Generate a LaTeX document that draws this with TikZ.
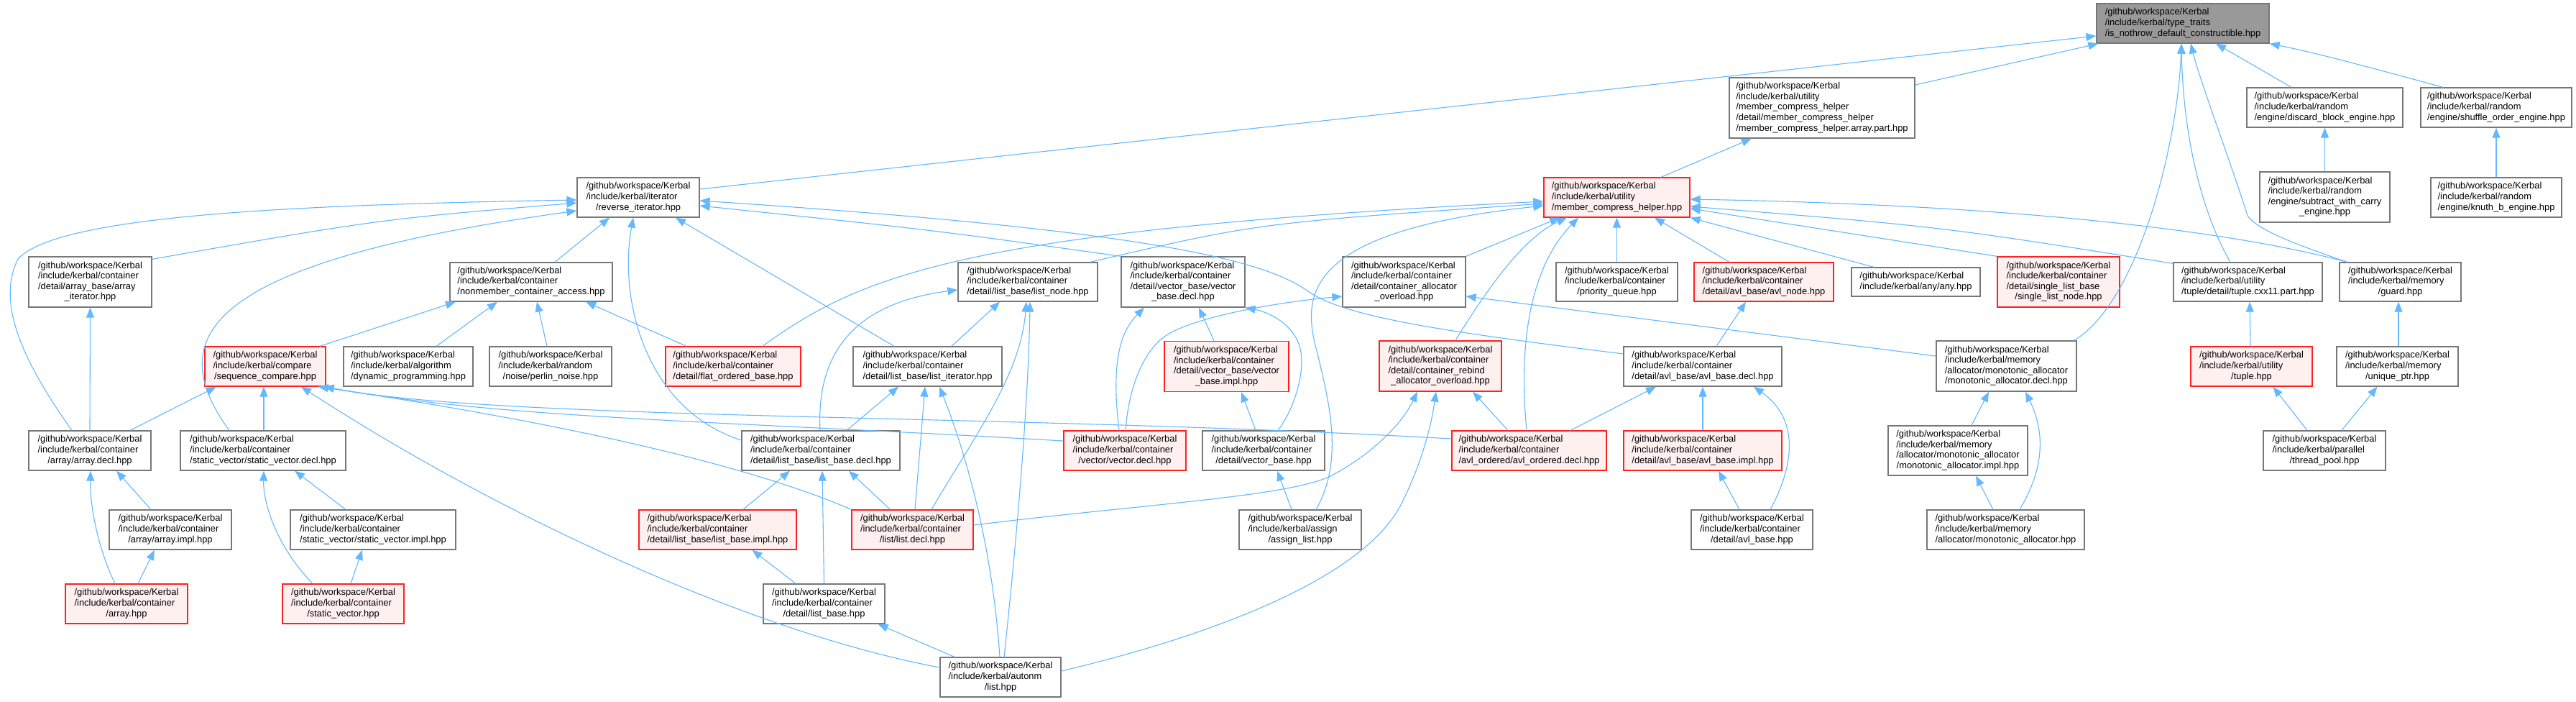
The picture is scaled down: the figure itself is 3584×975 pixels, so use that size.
\documentclass[tikz,border=0pt]{standalone}
\usepackage{fontspec}
\setmainfont{Liberation Sans}
\usetikzlibrary{arrows.meta}
\definecolor{edgeblue}{HTML}{63B8FF}
\definecolor{boxgray}{HTML}{777777}
\definecolor{rootfill}{HTML}{999999}
\definecolor{redfill}{HTML}{FFF0F0}
\definecolor{redline}{HTML}{FF2020}
\newcommand{\dlbl}[1]{\begin{tabular}{@{}l@{}}#1\end{tabular}}
\newcommand{\dlast}[1]{\multicolumn{1}{@{}c@{}}{#1}}
\newcommand{\gk}{/github/workspace/Kerbal}
\tikzset{
  nd/.style={draw=boxgray, fill=white, line width=1.3pt, inner sep=0pt, text=black,
    font=\fontsize{12.9}{14.6}\selectfont},
  rednd/.style={nd, draw=redline, fill=redfill},
  rootnd/.style={nd, draw=boxgray, fill=rootfill},
  sz/.style 2 args={minimum width=#1pt, minimum height=#2pt},
  arr/.style={draw=edgeblue, line width=1.1pt, -{Triangle[length=14pt,width=11pt]}}
}
\begin{document}
\begin{tikzpicture}[x=1pt,y=-1pt]
\fill[white] (0,0) rectangle (3584,975);
\useasboundingbox (0,0) rectangle (3584,975);

% ---------- nodes ----------
\node[rootnd, sz={240}{55}] (N0) at (3037,32.5) {\dlbl{\gk\\/include/kerbal/type\_traits\\\dlast{/is\_nothrow\_default\_constructible.hpp}}};
\node[nd, sz={258}{84}] (arraypart) at (2535,150) {\dlbl{\gk\\/include/kerbal/utility\\/member\_compress\_helper\\/detail/member\_compress\_helper\\\dlast{/member\_compress\_helper.array.part.hpp}}};
\node[nd, sz={217}{55}] (discard) at (3234.5,149.5) {\dlbl{\gk\\/include/kerbal/random\\\dlast{/engine/discard\_block\_engine.hpp}}};
\node[nd, sz={210}{55}] (shuffle) at (3473,149.5) {\dlbl{\gk\\/include/kerbal/random\\\dlast{/engine/shuffle\_order\_engine.hpp}}};
\node[nd, sz={170}{55}] (rev) at (888,274.5) {\dlbl{\gk\\/include/kerbal/iterator\\\dlast{/reverse\_iterator.hpp}}};
\node[rednd, sz={203}{55}] (mch) at (2249.5,274.5) {\dlbl{\gk\\/include/kerbal/utility\\\dlast{/member\_compress\_helper.hpp}}};
\node[nd, sz={181}{70}] (subtract) at (3234.5,274) {\dlbl{\gk\\/include/kerbal/random\\/engine/subtract\_with\_carry\\\dlast{\_engine.hpp}}};
\node[nd, sz={182}{55}] (knuth) at (3473,274.5) {\dlbl{\gk\\/include/kerbal/random\\\dlast{/engine/knuth\_b\_engine.hpp}}};

\node[nd, sz={171}{70}] (arrayiter) at (125.5,392) {\dlbl{\gk\\/include/kerbal/container\\/detail/array\_base/array\\\dlast{\_iterator.hpp}}};
\node[nd, sz={226}{54}] (nonmember) at (739,392) {\dlbl{\gk\\/include/kerbal/container\\\dlast{/nonmember\_container\_access.hpp}}};
\node[nd, sz={194}{54}] (listnode) at (1430,392) {\dlbl{\gk\\/include/kerbal/container\\\dlast{/detail/list\_base/list\_node.hpp}}};
\node[nd, sz={172}{70}] (vecbasedecl) at (1646,392) {\dlbl{\gk\\/include/kerbal/container\\/detail/vector\_base/vector\\\dlast{\_base.decl.hpp}}};
\node[nd, sz={171}{70}] (contalloc) at (1953.5,392) {\dlbl{\gk\\/include/kerbal/container\\/detail/container\_allocator\\\dlast{\_overload.hpp}}};
\node[nd, sz={169}{54}] (prio) at (2249.5,392) {\dlbl{\gk\\/include/kerbal/container\\\dlast{/priority\_queue.hpp}}};
\node[rednd, sz={194}{54}] (avlnode) at (2454,392) {\dlbl{\gk\\/include/kerbal/container\\\dlast{/detail/avl\_base/avl\_node.hpp}}};
\node[nd, sz={179}{40}] (any) at (2665.5,392) {\dlbl{\gk\\\dlast{/include/kerbal/any/any.hpp}}};
\node[rednd, sz={170}{70}] (singlelist) at (2864,392) {\dlbl{\gk\\/include/kerbal/container\\/detail/single\_list\_base\\\dlast{/single\_list\_node.hpp}}};
\node[nd, sz={207}{54}] (tuplecxx) at (3127.5,392) {\dlbl{\gk\\/include/kerbal/utility\\\dlast{/tuple/detail/tuple.cxx11.part.hpp}}};
\node[nd, sz={169}{54}] (guard) at (3339.5,392) {\dlbl{\gk\\/include/kerbal/memory\\\dlast{/guard.hpp}}};

\node[rednd, sz={168}{55}] (seqcmp) at (369,509.5) {\dlbl{\gk\\/include/kerbal/compare\\\dlast{/sequence\_compare.hpp}}};
\node[nd, sz={180}{55}] (dynprog) at (568,509.5) {\dlbl{\gk\\/include/kerbal/algorithm\\\dlast{/dynamic\_programming.hpp}}};
\node[nd, sz={170}{55}] (perlin) at (766,509.5) {\dlbl{\gk\\/include/kerbal/random\\\dlast{/noise/perlin\_noise.hpp}}};
\node[rednd, sz={188}{55}] (flat) at (1020,509.5) {\dlbl{\gk\\/include/kerbal/container\\\dlast{/detail/flat\_ordered\_base.hpp}}};
\node[nd, sz={207}{55}] (listiter) at (1290.5,509.5) {\dlbl{\gk\\/include/kerbal/container\\\dlast{/detail/list\_base/list\_iterator.hpp}}};
\node[rednd, sz={173}{70}] (vecbaseimpl) at (1706.5,509.5) {\dlbl{\gk\\/include/kerbal/container\\/detail/vector\_base/vector\\\dlast{\_base.impl.hpp}}};
\node[rednd, sz={170}{70}] (rebind) at (2004,509) {\dlbl{\gk\\/include/kerbal/container\\/detail/container\_rebind\\\dlast{\_allocator\_overload.hpp}}};
\node[nd, sz={220}{55}] (avlbasedecl) at (2369,509.5) {\dlbl{\gk\\/include/kerbal/container\\\dlast{/detail/avl\_base/avl\_base.decl.hpp}}};
\node[nd, sz={195}{70}] (monodecl) at (2791.5,509) {\dlbl{\gk\\/include/kerbal/memory\\/allocator/monotonic\_allocator\\\dlast{/monotonic\_allocator.decl.hpp}}};
\node[rednd, sz={169}{55}] (tuplehpp) at (3132.5,509.5) {\dlbl{\gk\\/include/kerbal/utility\\\dlast{/tuple.hpp}}};
\node[nd, sz={169}{55}] (uniqueptr) at (3335.5,509.5) {\dlbl{\gk\\/include/kerbal/memory\\\dlast{/unique\_ptr.hpp}}};

\node[nd, sz={170}{55}] (arraydecl) at (125,626.5) {\dlbl{\gk\\/include/kerbal/container\\\dlast{/array/array.decl.hpp}}};
\node[nd, sz={230}{55}] (svdecl) at (366,626.5) {\dlbl{\gk\\/include/kerbal/container\\\dlast{/static\_vector/static\_vector.decl.hpp}}};
\node[nd, sz={220}{55}] (listbasedecl) at (1142,626.5) {\dlbl{\gk\\/include/kerbal/container\\\dlast{/detail/list\_base/list\_base.decl.hpp}}};
\node[rednd, sz={170}{55}] (vecdecl) at (1565,626.5) {\dlbl{\gk\\/include/kerbal/container\\\dlast{/vector/vector.decl.hpp}}};
\node[nd, sz={170}{55}] (vecbasehpp) at (1758,626.5) {\dlbl{\gk\\/include/kerbal/container\\\dlast{/detail/vector\_base.hpp}}};
\node[rednd, sz={215}{55}] (avlordered) at (2127.5,626.5) {\dlbl{\gk\\/include/kerbal/container\\\dlast{/avl\_ordered/avl\_ordered.decl.hpp}}};
\node[rednd, sz={220}{55}] (avlbaseimpl) at (2369,626.5) {\dlbl{\gk\\/include/kerbal/container\\\dlast{/detail/avl\_base/avl\_base.impl.hpp}}};
\node[nd, sz={194}{69}] (monoimpl) at (2724,626.5) {\dlbl{\gk\\/include/kerbal/memory\\/allocator/monotonic\_allocator\\\dlast{/monotonic\_allocator.impl.hpp}}};
\node[nd, sz={170}{55}] (threadpool) at (3234,626.5) {\dlbl{\gk\\/include/kerbal/parallel\\\dlast{/thread\_pool.hpp}}};

\node[nd, sz={170}{55}] (arrayimpl) at (237,736.5) {\dlbl{\gk\\/include/kerbal/container\\\dlast{/array/array.impl.hpp}}};
\node[nd, sz={230}{55}] (svimpl) at (519,736.5) {\dlbl{\gk\\/include/kerbal/container\\\dlast{/static\_vector/static\_vector.impl.hpp}}};
\node[rednd, sz={219}{55}] (listbaseimpl) at (998.5,736.5) {\dlbl{\gk\\/include/kerbal/container\\\dlast{/detail/list\_base/list\_base.impl.hpp}}};
\node[rednd, sz={169}{55}] (listdecl) at (1269.5,736.5) {\dlbl{\gk\\/include/kerbal/container\\\dlast{/list/list.decl.hpp}}};
\node[nd, sz={170}{55}] (assign) at (1809,736.5) {\dlbl{\gk\\/include/kerbal/assign\\\dlast{/assign\_list.hpp}}};
\node[nd, sz={169}{55}] (avlbasehpp) at (2437.5,736.5) {\dlbl{\gk\\/include/kerbal/container\\\dlast{/detail/avl\_base.hpp}}};
\node[nd, sz={219}{55}] (monohpp) at (2790.5,736.5) {\dlbl{\gk\\/include/kerbal/memory\\\dlast{/allocator/monotonic\_allocator.hpp}}};

\node[rednd, sz={170}{55}] (arrayhpp) at (176,839.5) {\dlbl{\gk\\/include/kerbal/container\\\dlast{/array.hpp}}};
\node[rednd, sz={169}{55}] (svhpp) at (477.5,839.5) {\dlbl{\gk\\/include/kerbal/container\\\dlast{/static\_vector.hpp}}};
\node[nd, sz={169}{55}] (listbasehpp) at (1146.5,839.5) {\dlbl{\gk\\/include/kerbal/container\\\dlast{/detail/list\_base.hpp}}};
\node[nd, sz={168}{55}] (autonm) at (1392,941.5) {\dlbl{\gk\\/include/kerbal/autonm\\\dlast{/list.hpp}}};

% ---------- edges (child -> included file) ----------
% into N0
\draw[arr] ([yshift=11.5pt]rev.east) -- ([yshift=-17.5pt]N0.west);
\draw[arr] ([yshift=32pt]arraypart.east) -- ([xshift=3pt]N0.south west);
\draw[arr] ([xshift=-46.5pt]discard.north) -- ([xshift=46pt]N0.south);
\draw[arr] ([xshift=-74pt]shuffle.north) .. controls (3320,100) and (3230,75) .. (N0.south east);
\draw[arr] ([xshift=-24.5pt]tuplecxx.north) .. controls (3060,290) and (3037,180) .. ([xshift=-2pt]N0.south);
\draw[arr] ([xshift=-74pt]guard.north) .. controls (3180,335) and (3140,318) .. (3127,300) .. controls (3105,230) and (3060,110) .. ([xshift=11pt]N0.south);
\draw[arr] ([xshift=-4pt]monodecl.north east) .. controls (2975,420) and (3030,200) .. ([xshift=-2pt]N0.south);
% row 1/2
\draw[arr] ([xshift=61.5pt]mch.north) -- ([xshift=-98pt]arraypart.south);
\draw[arr] (subtract.north) -- (discard.south);
\draw[arr] (knuth.north) -- (shuffle.south);
% into reverse_iterator
\draw[arr] ([yshift=-4pt]arrayiter.north east) .. controls (527,305) .. ([yshift=-7.5pt]rev.west);
\draw[arr] ([xshift=33pt]nonmember.north) -- ([xshift=-40pt]rev.south);
\draw[arr] ([xshift=-46.5pt]listiter.north) -- ([xshift=52pt]rev.south);
\draw[arr] ([yshift=14.5pt]listbasedecl.west) .. controls (900,570) and (860,420) .. ([xshift=-7pt]rev.south);
\draw[arr] (vecbasedecl.north west) .. controls (1300,320) .. ([yshift=-11.5pt]rev.east);
\draw[arr] ([yshift=17.5pt]avlbasedecl.west) .. controls (2000,460) and (1870,440) .. (1820,405) .. controls (1760,362) and (1600,320) .. ([yshift=-4.5pt]rev.east);
\draw[arr] ([xshift=-25pt]arraydecl.north) .. controls (30,500) and (-5,420) .. (25,360) .. controls (80,300) and (400,285) .. ([yshift=-3.5pt]rev.west);
\draw[arr] ([xshift=-47pt]svdecl.north) .. controls (225,470) and (280,365) .. ([yshift=-18.5pt]rev.west);
% into member_compress_helper
\draw[arr] ([xshift=87pt]listnode.north) .. controls (1750,310) .. ([yshift=-8.5pt]mch.west);
\draw[arr] ([xshift=41pt]flat.north) .. controls (1200,380) and (1350,320) .. ([yshift=-5.5pt]mch.west);
\draw[arr] ([xshift=22pt]assign.north) .. controls (1870,640) and (1850,560) .. (1830,480) .. controls (1810,400) and (1830,320) .. ([yshift=-11.5pt]mch.west);
\draw[arr] (contalloc.north east) -- ([xshift=-79.5pt]mch.south);
\draw[arr] ([xshift=21pt]rebind.north) .. controls (2070,400) and (2120,330) .. ([xshift=-69.5pt]mch.south);
\draw[arr] ([xshift=-3.5pt]avlordered.north) .. controls (2110,450) and (2140,360) .. ([xshift=-53.5pt]mch.south);
\draw[arr] (prio.north) -- (mch.south);
\draw[arr] ([xshift=-48pt]avlnode.north) -- ([xshift=52.5pt]mch.south);
\draw[arr] ([xshift=-58.5pt]any.north) -- (mch.south east);
\draw[arr] (singlelist.north west) -- ([yshift=-15.5pt]mch.east);
\draw[arr] ([yshift=-2pt]tuplecxx.north west) .. controls (2700,315) .. ([yshift=-12.5pt]mch.east);
\draw[arr] ([xshift=-74pt]guard.north) .. controls (3100,320) and (2800,285) .. ([yshift=-2.5pt]mch.east);
% into nonmember_container_access
\draw[arr] ([xshift=76pt]seqcmp.north) -- ([xshift=-105pt]nonmember.south);
\draw[arr] ([xshift=39pt]dynprog.north) -- ([xshift=-47pt]nonmember.south);
\draw[arr] ([xshift=-5pt]perlin.north) -- ([xshift=8pt]nonmember.south);
\draw[arr] ([xshift=-65pt]flat.north) -- ([xshift=76pt]nonmember.south);
% array / static_vector
\draw[arr] (arraydecl.north) -- (arrayiter.south);
\draw[arr] ([xshift=56pt]arraydecl.north) -- ([xshift=-68pt]seqcmp.south);
\draw[arr] ([xshift=1pt]svdecl.north) -- ([xshift=-2pt]seqcmp.south);
\draw[arr] (listdecl.north west) .. controls (1050,650) and (800,590) .. ([xshift=-11pt]seqcmp.south east);
\draw[arr] ([yshift=13.5pt]vecdecl.west) .. controls (1000,585) and (700,582) .. ([xshift=-3pt]seqcmp.south east);
\draw[arr] ([yshift=16.5pt]avlordered.west) .. controls (1400,575) and (700,585) .. ([xshift=-3pt]seqcmp.south east);
\draw[arr] ([yshift=13.5pt]autonm.west) .. controls (1050,880) and (700,720) .. ([xshift=50pt]seqcmp.south);
\draw[arr] ([xshift=-27pt]arrayimpl.north) -- ([xshift=37pt]arraydecl.south);
\draw[arr] ([xshift=-16pt]arrayhpp.north) .. controls (135,760) and (125,700) .. ([xshift=1pt]arraydecl.south);
\draw[arr] ([xshift=16pt]arrayhpp.north) -- ([xshift=-22pt]arrayimpl.south);
\draw[arr] ([xshift=-38pt]svimpl.north) -- ([xshift=44pt]svdecl.south);
\draw[arr] ([xshift=-42.5pt]svhpp.north) .. controls (385,760) and (366,700) .. ([xshift=1pt]svdecl.south);
\draw[arr] ([xshift=10.5pt]svhpp.north) -- ([xshift=-15pt]svimpl.south);
% list family
\draw[arr] ([xshift=-1pt]listbasedecl.north) .. controls (1135,480) and (1200,420) .. ([yshift=-11pt]listnode.west);
\draw[arr] ([xshift=33.5pt]listiter.north) -- ([xshift=-39pt]listnode.south);
\draw[arr] ([xshift=26.5pt]listdecl.north) .. controls (1360,600) and (1420,520) .. ([xshift=-2pt]listnode.south);
\draw[arr] ([xshift=5pt]autonm.north) .. controls (1425,650) and (1432,500) .. ([xshift=3pt]listnode.south);
\draw[arr] ([xshift=36pt]listbasedecl.north) -- ([xshift=-40.5pt]listiter.south);
\draw[arr] ([xshift=3.5pt]listdecl.north) -- ([xshift=-3.5pt]listiter.south);
\draw[arr] ([xshift=-1pt]autonm.north) .. controls (1380,750) and (1340,620) .. ([xshift=16.5pt]listiter.south);
\draw[arr] ([xshift=35.5pt]listbaseimpl.north) -- ([xshift=-43pt]listbasedecl.south);
\draw[arr] (listbasehpp.north) -- ([xshift=2pt]listbasedecl.south);
\draw[arr] ([xshift=-31pt]listdecl.north) -- ([xshift=39pt]listbasedecl.south);
\draw[arr] ([xshift=-39.5pt]listbasehpp.north) -- ([xshift=48pt]listbaseimpl.south);
\draw[arr] ([xshift=-64pt]autonm.north) -- ([xshift=75pt]listbasehpp.south);
% vector family
\draw[arr] ([xshift=-17.5pt]vecbaseimpl.north) -- ([xshift=22pt]vecbasedecl.south);
\draw[arr] ([xshift=-8pt]vecdecl.north) .. controls (1545,500) and (1560,460) .. ([xshift=-54pt]vecbasedecl.south);
\draw[arr] ([xshift=20pt]vecbasehpp.north) .. controls (1800,570) and (1815,520) .. (1810,490) .. controls (1805,455) and (1770,435) .. (vecbasedecl.south east);
\draw[arr] ([xshift=-11pt]vecbasehpp.north) -- ([xshift=20.5pt]vecbaseimpl.south);
\draw[arr] ([xshift=-12pt]assign.north) -- ([xshift=19pt]vecbasehpp.south);
\draw[arr] ([xshift=1pt]vecdecl.north) .. controls (1570,540) and (1590,490) .. (1620,468) .. controls (1660,440) and (1780,420) .. ([yshift=-20pt]contalloc.west);
\draw[arr] ([yshift=14pt]monodecl.west) -- ([yshift=-20pt]contalloc.east);
% rebind / avl
\draw[arr] ([yshift=6.5pt]listdecl.east) .. controls (1600,700) and (1800,690) .. (1855,660) .. controls (1910,630) and (1950,590) .. ([xshift=-32pt]rebind.south);
\draw[arr] ([yshift=8.5pt]autonm.east) .. controls (1700,880) and (1900,800) .. (1950,700) .. controls (1975,650) and (1990,600) .. ([xshift=-6pt]rebind.south);
\draw[arr] ([xshift=-29.5pt]avlordered.north) -- ([xshift=45pt]rebind.south);
\draw[arr] ([xshift=57.5pt]avlordered.north) -- ([xshift=-65pt]avlbasedecl.south);
\draw[arr] (avlbaseimpl.north) -- (avlbasedecl.south);
\draw[arr] ([xshift=25.5pt]avlbasehpp.north) .. controls (2500,640) and (2500,580) .. ([xshift=71pt]avlbasedecl.south);
\draw[arr] ([xshift=-17.5pt]avlbasehpp.north) -- ([xshift=22pt]avlbaseimpl.south);
\draw[arr] ([xshift=19pt]avlbasedecl.north) -- ([xshift=-25pt]avlnode.south);
% monotonic allocator
\draw[arr] ([xshift=19pt]monoimpl.north) -- ([xshift=-24.5pt]monodecl.south);
\draw[arr] ([xshift=19.5pt]monohpp.north) .. controls (2845,650) and (2845,600) .. ([xshift=26.5pt]monodecl.south);
\draw[arr] ([xshift=-17.5pt]monohpp.north) -- ([xshift=25pt]monoimpl.south);
% tuple / memory
\draw[arr] ([xshift=-1.5pt]tuplehpp.north) -- ([xshift=2.5pt]tuplecxx.south);
\draw[arr] ([xshift=1.5pt]uniqueptr.north) -- ([xshift=-2.5pt]guard.south);
\draw[arr] ([xshift=-24pt]threadpool.north) -- ([xshift=30pt]tuplehpp.south);
\draw[arr] ([xshift=24pt]threadpool.north) -- ([xshift=-28pt]uniqueptr.south);
\end{tikzpicture}
\end{document}
